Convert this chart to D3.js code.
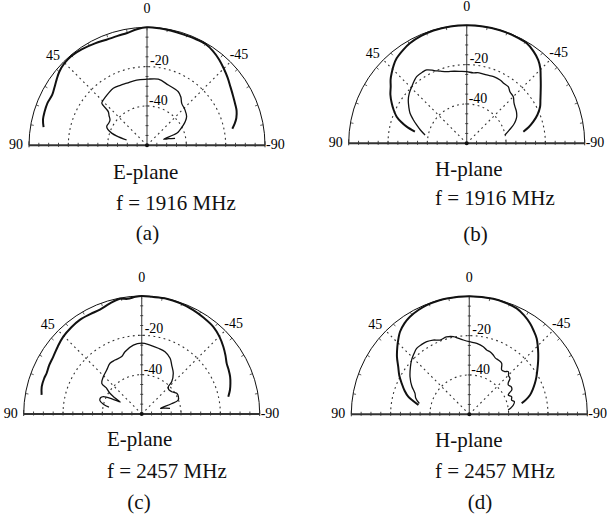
<!DOCTYPE html>
<html>
<head>
<meta charset="utf-8">
<script src="https://cdn.jsdelivr.net/npm/d3@7"></script>
<style>
  body { margin: 0; background: #fff; }
  svg { display: block; }
</style>
</head>
<body>
<svg id="chart" width="607" height="514"></svg>
<script>
// measured patterns: [angle in deg (positive = left side), level in dB]
const eCo1916 = [[80,-6.6],[76,-5.5],[72,-5.2],[67,-5.0],[62,-5.4],[58,-4.5],[54,-3.2],[50,-1.8],[45,-0.8],[40,-0.5],[34,-1.0],[27,-1.8],[21,-2.5],[15,-2.4],[10,-2.0],[5,-0.8],[0,0],[-6,-0.2],[-12,-0.5],[-18,-0.7],[-24,-0.6],[-30,-0.5],[-35,-1.5],[-40,-3.0],[-45,-4.8],[-50,-6.5],[-55,-8.2],[-60,-9.5],[-65,-10.5],[-69,-11.2],[-73,-12.5],[-76,-14.0],[-79,-15.8]];
const eX1916 = [[75.4,-49.3],[73,-44],[71,-41],[68,-38.5],[65,-37.4],[60,-37.5],[55.6,-37.2],[52,-35.5],[49,-33.9],[47,-28.6],[44,-28.0],[40,-27.5],[36.7,-27.1],[30.6,-26.3],[24,-26.6],[18,-26.8],[9,-26.4],[0,-26.4],[-9.7,-25.9],[-19.5,-27.5],[-30,-28.4],[-35,-30],[-39.6,-32.3],[-47,-33.6],[-54,-35.1],[-58,-37],[-61,-38.9],[-65,-41.5],[-68,-43.7],[-70,-51],[-73,-48.5],[-76,-45.3]];
const hCo1916 = [[77.4,-33],[74.5,-28.3],[72,-25],[69.2,-21.9],[65.5,-19.2],[61.9,-16.8],[57.5,-14],[53.3,-11.8],[50,-9.5],[47,-7.8],[43,-5.6],[39.5,-4.0],[34,-2.5],[29.6,-1.5],[23,-0.7],[16.4,-0.2],[8,0],[0,0],[-8,0],[-16.4,-0.1],[-24,-0.3],[-31,-0.7],[-36,-2.2],[-40.7,-4.2],[-44.5,-6.6],[-48,-9.4],[-52,-12.2],[-55.9,-14.6],[-59.5,-16.5],[-63.5,-18.3],[-68,-21.2],[-72,-24.4],[-75.5,-27.5],[-78.4,-30.6]];
const hX1916 = [[78.7,-38.4],[74,-35.5],[69.9,-32.9],[66,-30.2],[62.1,-27.4],[58,-25.3],[53.4,-23.0],[49,-21.3],[44.2,-19.9],[40,-18.5],[36.9,-17.6],[32,-17.4],[28.6,-17.5],[24,-19.5],[20,-21.0],[15.6,-22.2],[10,-22.8],[5,-23.3],[0,-23.6],[-5.3,-24.0],[-10,-23.6],[-16.3,-23.8],[-22,-23.4],[-27.8,-23.6],[-32,-24.2],[-36.3,-24.3],[-40,-25.8],[-45,-26.5],[-49,-28.2],[-52.8,-29.2],[-57,-29.9],[-62,-31.2],[-65,-32.5],[-68.6,-34.5],[-73,-37.5],[-77.8,-40.1]];
const eCo2457 = [[79.2,-8.2],[74.7,-7.3],[70,-7.2],[66.8,-7.4],[62,-6.8],[57,-6.4],[51,-5.2],[45.4,-4.0],[39,-3.2],[33.3,-2.7],[27,-2.9],[21.8,-2.8],[16,-1.5],[10.7,-0.4],[7,-1.0],[3,-0.3],[0,0],[-5,-0.2],[-12.2,0],[-19,-0.4],[-26.4,-1.0],[-33,-1.8],[-39.4,-2.6],[-45,-4.2],[-50.5,-6.2],[-55,-8.0],[-59.2,-9.7],[-63,-10.4],[-67.1,-11.2],[-71,-12.3],[-74.8,-13.5],[-78.7,-15.1]];
const eX2457 = [[78.2,-43],[76,-40.1],[72.3,-37.7],[68.5,-37.5],[65.7,-38.6],[63,-43],[61,-47.5],[59,-44],[56.9,-40.7],[54.5,-38.5],[53.7,-37.9],[52.5,-34.4],[45.8,-32.8],[38.5,-31.4],[32,-29.6],[26.3,-29.4],[19.2,-29.1],[15,-27.2],[6.9,-24.7],[0,-24],[-6.9,-24.7],[-14.2,-25.5],[-20.5,-26.2],[-27,-28.2],[-31.5,-30.8],[-37.8,-33.8],[-42.9,-37.6],[-44.3,-40.6],[-48,-41.5],[-53.4,-41],[-59.4,-39.3],[-64,-39.3],[-69,-40.1],[-71,-44],[-73,-50],[-76,-47.5],[-78.6,-45.3]];
const hCo2457 = [[79.7,-33.7],[76.5,-30.5],[73.9,-27.7],[70,-25],[65.4,-22.2],[61,-19.3],[56.2,-16.5],[51.5,-13],[46.8,-9.8],[43,-7.2],[40,-5.2],[35.5,-3.2],[31.3,-1.9],[26,-1.0],[21.3,-0.4],[15,-0.1],[11,0],[0,0],[-11.7,0],[-18,-0.4],[-24.1,-1.0],[-29,-2.5],[-33.7,-4.4],[-37.5,-6.3],[-41.6,-8.4],[-45,-10.8],[-48.5,-13.2],[-52.5,-15.9],[-56.9,-18.7],[-61,-21],[-64.7,-23.1],[-68.5,-25.3],[-72.4,-27.6],[-75.5,-30.2],[-78.1,-32.8]];
const hX2457 = [[77.8,-34],[73,-31.5],[68.9,-30.4],[64,-27.5],[57.6,-24.3],[51,-21.5],[46.7,-19.7],[42.5,-18.3],[38.6,-17.1],[34.5,-17.0],[30.4,-17.2],[26,-18.0],[21.5,-19.4],[16.5,-19.0],[11.6,-19.7],[8,-21.0],[4.6,-22.1],[0,-23.1],[-6,-23.7],[-11.7,-24.9],[-15.1,-26.1],[-18.3,-26.5],[-22,-27.5],[-25,-28.5],[-28.1,-28.7],[-32.4,-29.3],[-36.2,-32.1],[-39.5,-31.8],[-42.5,-30.6],[-45.5,-32.0],[-48.5,-32.4],[-51,-34.5],[-53.1,-35.2],[-56.5,-34.5],[-60.2,-35.1],[-62,-37.0],[-63.7,-37.9],[-67.5,-36.7],[-71.4,-37.3],[-74.5,-36.2],[-78.1,-37.1],[-81,-38.5],[-83.7,-40.1]];

const coSeries = [eCo1916, hCo1916, eCo2457, hCo2457];
const xSeries = [eX1916, hX1916, eX2457, hX2457];
const planes = ["E-plane", "H-plane", "E-plane", "H-plane"];
const freqs = ["f = 1916 MHz", "f = 1916 MHz", "f = 2457 MHz", "f = 2457 MHz"];
const letters = ["(a)", "(b)", "(c)", "(d)"];
const circleLevels = [-20, -40];
const angleLabels = ["0", "45", "-45", "90", "-90"];

const R = 118;
const rScale = d3.scaleLinear().domain([-60, 0]).range([0, R]);

// panel placement (page coords)
const layout = [
  { cx: 147, cy: 145.3, title: [113, 179], freq: [116, 210], letter: [147.5, 240] },
  { cx: 466.7, cy: 143.3, title: [435, 176], freq: [435, 205], letter: [475.5, 241] },
  { cx: 141.7, cy: 414, title: [107, 446], freq: [107, 478], letter: [139, 509] },
  { cx: 469.3, cy: 414.3, title: [435, 447], freq: [435, 478], letter: [480, 509] },
];

const svg = d3.select("#chart");
const serif = "'Liberation Serif', 'Times New Roman', serif";

const patternLine = d3
  .lineRadial()
  .angle((d) => (-d[0] * Math.PI) / 180)
  .radius((d) => rScale(d[1]))
  .curve(d3.curveCatmullRom.alpha(0.5));

function halfCircle(rad) {
  const p = d3.path();
  p.arc(0, 0, rad, Math.PI, 2 * Math.PI);
  return p.toString();
}

layout.forEach((L, i) => {
  const g = svg.append("g").attr("transform", `translate(${L.cx},${L.cy})`);

  // dotted grid circles
  circleLevels.forEach((lv) => {
    g.append("path")
      .attr("d", halfCircle(rScale(lv)))
      .attr("fill", "none")
      .attr("stroke", "#333")
      .attr("stroke-width", 1.1)
      .attr("stroke-dasharray", "1.8,3.4");
  });

  // dotted radial lines at +/-45
  [45, -45].forEach((a) => {
    const t = (a * Math.PI) / 180;
    g.append("line")
      .attr("x1", 0)
      .attr("y1", 0)
      .attr("x2", -R * Math.sin(t))
      .attr("y2", -R * Math.cos(t))
      .attr("stroke", "#333")
      .attr("stroke-width", 1.1)
      .attr("stroke-dasharray", "1.8,3.4");
  });

  // outer circle
  g.append("path")
    .attr("d", halfCircle(R))
    .attr("fill", "none")
    .attr("stroke", "#111")
    .attr("stroke-width", 1);

  // small ticks on the outer circle every 10 deg
  d3.range(-80, 90, 10).forEach((a) => {
    const t = (a * Math.PI) / 180;
    g.append("line")
      .attr("x1", -R * Math.sin(t))
      .attr("y1", -R * Math.cos(t))
      .attr("x2", -(R - 3) * Math.sin(t))
      .attr("y2", -(R - 3) * Math.cos(t))
      .attr("stroke", "#333")
      .attr("stroke-width", 0.8);
  });

  // vertical axis
  g.append("line")
    .attr("x1", 0).attr("y1", 0)
    .attr("x2", 0).attr("y2", -R)
    .attr("stroke", "#555")
    .attr("stroke-width", 1.2);

  // baseline
  g.append("line")
    .attr("x1", -R).attr("y1", 0)
    .attr("x2", R).attr("y2", 0)
    .attr("stroke", "#333")
    .attr("stroke-width", 2);

  // dB ticks along the axes
  const tickVals = d3.range(-55, 0, 5);
  tickVals.forEach((v) => {
    const rr = rScale(v);
    [-rr, rr].forEach((x) => {
      g.append("line")
        .attr("x1", x).attr("y1", -2.5)
        .attr("x2", x).attr("y2", 1.5)
        .attr("stroke", "#333")
        .attr("stroke-width", 0.9);
    });
    g.append("line")
      .attr("x1", -1.5).attr("y1", -rr)
      .attr("x2", 1.5).attr("y2", -rr)
      .attr("stroke", "#333")
      .attr("stroke-width", 0.9);
  });
  g.append("line")
    .attr("x1", -R).attr("y1", -4)
    .attr("x2", -R).attr("y2", 2)
    .attr("stroke", "#333");
  g.append("line")
    .attr("x1", R).attr("y1", -4)
    .attr("x2", R).attr("y2", 2)
    .attr("stroke", "#333");

  g.append("circle").attr("r", 2).attr("fill", "#111");

  // pattern curves
  g.append("path")
    .attr("d", patternLine(xSeries[i]))
    .attr("fill", "none")
    .attr("stroke", "#111")
    .attr("stroke-width", 1.3);
  g.append("path")
    .attr("d", patternLine(coSeries[i]))
    .attr("fill", "none")
    .attr("stroke", "#111")
    .attr("stroke-width", 2);

  // angle labels
  const lab = g.append("g")
    .attr("font-family", serif)
    .attr("font-size", 14)
    .attr("fill", "#000");
  lab.append("text").attr("x", 0).attr("y", -R - 14)
    .attr("text-anchor", "middle").text(angleLabels[0]);
  lab.append("text").attr("x", -94).attr("y", -85.5)
    .attr("text-anchor", "middle").text(angleLabels[1]);
  lab.append("text").attr("x", 92).attr("y", -86)
    .attr("text-anchor", "middle").text(angleLabels[2]);
  lab.append("text").attr("x", -R - 6).attr("y", 4)
    .attr("text-anchor", "end").text(angleLabels[3]);
  lab.append("text").attr("x", R + 1).attr("y", 4)
    .attr("text-anchor", "start").text(angleLabels[4]);

  // dB level labels
  circleLevels.forEach((lv, k) => {
    lab.append("text")
      .attr("x", k === 0 ? 3 : 2)
      .attr("y", -rScale(lv) - (k === 0 ? 2 : 1))
      .text(String(lv));
  });

  // captions
  const cap = svg.append("g")
    .attr("font-family", serif)
    .attr("font-size", 21)
    .attr("fill", "#111");
  cap.append("text").attr("x", L.title[0]).attr("y", L.title[1]).text(planes[i]);
  cap.append("text").attr("x", L.freq[0]).attr("y", L.freq[1]).text(freqs[i]);
  cap.append("text").attr("x", L.letter[0]).attr("y", L.letter[1])
    .attr("text-anchor", "middle").text(letters[i]);
});
</script>
</body>
</html>
